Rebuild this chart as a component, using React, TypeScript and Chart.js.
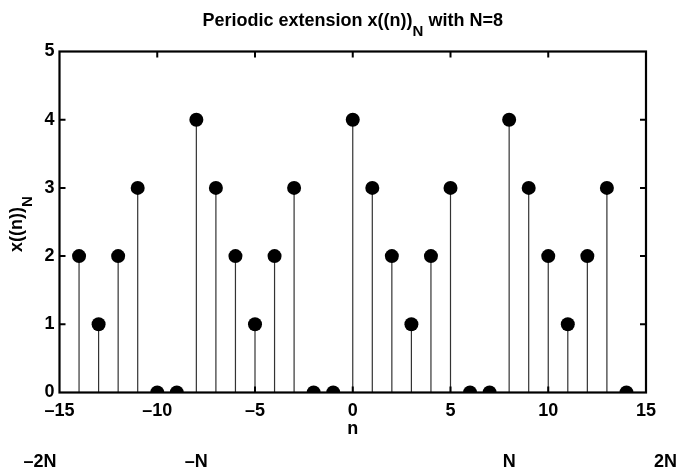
import { useEffect, useRef } from 'react';
import { Chart, registerables } from 'chart.js';

Chart.register(...registerables);

const nValues = [-14, -13, -12, -11, -10, -9, -8, -7, -6, -5, -4, -3, -2, -1, 0, 1, 2, 3, 4, 5, 6, 7, 8, 9, 10, 11, 12, 13, 14];
const xnValues = [2, 1, 2, 3, 0, 0, 4, 3, 2, 1, 2, 3, 0, 0, 4, 3, 2, 1, 2, 3, 0, 0, 4, 3, 2, 1, 2, 3, 0];
const periodLabels = ['\u20132N', '\u2013N', 'N', '2N'];
const periodPositions = [-16, -8, 8, 16];
const xMin = -15;
const xMax = 15;
const xStep = 5;
const yMin = 0;
const yMax = 5;
const yStep = 1;

const FONT = "'Liberation Sans', Arial, Helvetica, sans-serif";

type Part = { t: string; sub: boolean };

function drawParts(ctx: CanvasRenderingContext2D, cx: number, baseY: number, parts: Part[], size: number, subSize: number, subOffset: number) {
  const widths = parts.map((p) => {
    ctx.font = `bold ${p.sub ? subSize : size}px ${FONT}`;
    return ctx.measureText(p.t).width;
  });
  const total = widths.reduce((a, b) => a + b, 0);
  let x = cx - total / 2;
  ctx.textAlign = 'left';
  ctx.textBaseline = 'alphabetic';
  parts.forEach((p, i) => {
    ctx.font = `bold ${p.sub ? subSize : size}px ${FONT}`;
    ctx.fillText(p.t, x, baseY + (p.sub ? subOffset : 0));
    x += widths[i];
  });
}

const stemPlugin = {
  id: 'stems',
  beforeDatasetsDraw(chart: any) {
    const { ctx, scales } = chart;
    const xs = scales.x;
    const ys = scales.y;
    ctx.save();
    ctx.strokeStyle = '#333333';
    ctx.lineWidth = 1.2;
    nValues.forEach((n, i) => {
      const px = xs.getPixelForValue(n);
      ctx.beginPath();
      ctx.moveTo(px, ys.getPixelForValue(0));
      ctx.lineTo(px, ys.getPixelForValue(xnValues[i]));
      ctx.stroke();
    });
    ctx.restore();
  },
};

const framePlugin = {
  id: 'frame',
  afterDatasetsDraw(chart: any) {
    const { ctx, chartArea, scales } = chart;
    const { left, right, top, bottom } = chartArea;
    const tl = 6;
    ctx.save();
    ctx.strokeStyle = '#000';
    ctx.lineWidth = 2;
    ctx.beginPath();
    scales.x.ticks.forEach((t: any) => {
      if (t.value <= xMin || t.value >= xMax) return;
      const px = scales.x.getPixelForValue(t.value);
      ctx.moveTo(px, bottom);
      ctx.lineTo(px, bottom - tl);
      ctx.moveTo(px, top);
      ctx.lineTo(px, top + tl);
    });
    scales.y.ticks.forEach((t: any) => {
      if (t.value <= yMin || t.value >= yMax) return;
      const py = scales.y.getPixelForValue(t.value);
      ctx.moveTo(left, py);
      ctx.lineTo(left + tl, py);
      ctx.moveTo(right, py);
      ctx.lineTo(right - tl, py);
    });
    ctx.stroke();
    ctx.lineWidth = 2.2;
    ctx.strokeRect(left, top, right - left, bottom - top);
    ctx.restore();
  },
  afterDraw(chart: any) {
    const { ctx, chartArea, scales } = chart;
    ctx.save();
    ctx.fillStyle = '#000';
    // title
    drawParts(ctx, (chartArea.left + chartArea.right) / 2, 26, [
      { t: 'Periodic extension x((n))', sub: false },
      { t: 'N', sub: true },
      { t: ' with N=8', sub: false },
    ], 18, 15, 10);
    // x label
    ctx.font = `bold 18px ${FONT}`;
    ctx.textAlign = 'center';
    ctx.textBaseline = 'middle';
    ctx.fillText('n', (chartArea.left + chartArea.right) / 2, 429);
    // period labels
    periodLabels.forEach((lab, i) => {
      ctx.font = `bold 18px ${FONT}`;
      ctx.textAlign = 'center';
      ctx.textBaseline = 'middle';
      ctx.fillText(lab, scales.x.getPixelForValue(periodPositions[i]), 462);
    });
    // y label
    ctx.save();
    ctx.translate(22, 224);
    ctx.rotate(-Math.PI / 2);
    drawParts(ctx, 0, 0, [
      { t: 'x((n))', sub: false },
      { t: 'N', sub: true },
    ], 18, 15, 10);
    ctx.restore();
    ctx.restore();
  },
};

export default function App() {
  const ref = useRef<HTMLCanvasElement | null>(null);
  useEffect(() => {
    if (!ref.current) return;
    const chart = new Chart(ref.current, {
      type: 'scatter',
      data: {
        datasets: [
          {
            data: nValues.map((n, i) => ({ x: n, y: xnValues[i] })),
            backgroundColor: '#000',
            borderColor: '#000',
            borderWidth: 0,
            pointRadius: 7,
            pointHoverRadius: 7,
            clip: 0,
          } as any,
        ],
      },
      options: {
        animation: false,
        responsive: false,
        devicePixelRatio: 1,
        events: [],
        layout: { padding: { left: 0, top: 51.5, right: 48, bottom: 0 } },
        plugins: {
          legend: { display: false },
          title: { display: false },
          tooltip: { enabled: false },
        },
        scales: {
          x: {
            type: 'linear',
            min: xMin,
            max: xMax,
            grid: { display: false, drawTicks: false },
            border: { display: false },
            ticks: {
              stepSize: xStep,
              color: '#000',
              padding: 8,
              font: { family: FONT, size: 18, weight: 'bold' },
              maxRotation: 0,
              callback: (v: any) => String(v).replace('-', '\u2013'),
            },
            afterFit: (s: any) => {
              s.height = 79.5;
            },
          },
          y: {
            type: 'linear',
            min: yMin,
            max: yMax,
            grid: { display: false, drawTicks: false },
            border: { display: false },
            ticks: {
              stepSize: yStep,
              color: '#000',
              padding: 5,
              font: { family: FONT, size: 18, weight: 'bold' },
            },
            afterFit: (s: any) => {
              s.width = 59.5;
            },
          },
        },
      },
      plugins: [stemPlugin, framePlugin],
    });
    return () => chart.destroy();
  }, []);
  return (
    <div style={{ position: 'absolute', left: 0, top: 0, width: 694, height: 472, background: '#fff' }}>
      <canvas ref={ref} width={694} height={472} style={{ width: 694, height: 472, display: 'block' }} />
    </div>
  );
}
